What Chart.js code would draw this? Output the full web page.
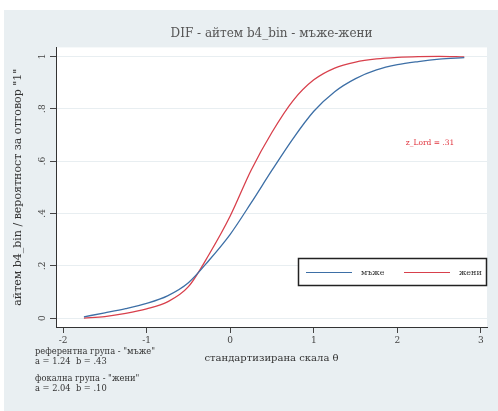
<!DOCTYPE html>
<html lang="bg">
<head>
<meta charset="UTF-8">
<title>DIF - айтем b4_bin - мъже-жени</title>
<style>
    html, body { margin: 0; padding: 0; background: #fff; }
    #wrap { position: relative; width: 498px; height: 411px; }
</style>
<script src="https://cdn.jsdelivr.net/npm/chart.js"></script>
</head>
<body>
<div id="wrap"><canvas id="dif"></canvas></div>
<script>
    // стандартизирана скала и вероятности по групи
    var theta  = [-1.75, -1.5, -1.25, -1.0, -0.75, -0.5, -0.25, 0, 0.25, 0.5, 0.75, 1.0, 1.25, 1.5, 1.75, 2.0, 2.25, 2.5, 2.8];
    var menP   = [0.005, 0.02, 0.036, 0.056, 0.085, 0.135, 0.222, 0.32, 0.44, 0.565, 0.685, 0.79, 0.865, 0.915, 0.948, 0.968, 0.98, 0.989, 0.995];
    var womenP = [0.0, 0.006, 0.018, 0.035, 0.062, 0.12, 0.245, 0.39, 0.565, 0.71, 0.83, 0.91, 0.955, 0.978, 0.99, 0.996, 0.999, 1.0, 0.998];

    var groupNames = ['мъже', 'жени'];
    var xTicks = [-2, -1, 0, 1, 2, 3];
    var yTicks = [0, 0.2, 0.4, 0.6, 0.8, 1];
    var yTickLabels = ['0', '.2', '.4', '.6', '.8', '1'];
    var noteLines = [
        ['референтна група - "мъже"', 'a = 1.24  b = .43'],
        ['фокална група - "жени"', 'a = 2.04  b = .10']
    ];
    var statText = 'z_Lord = .31';

    var SERIF = '"DejaVu Serif", "Liberation Serif", serif';

    function pts(vals) {
        return theta.map(function (t, i) { return { x: t, y: vals[i] }; });
    }

    // фон: сива рамка, бяла зона на графиката
    var backdrop = {
        id: 'backdrop',
        beforeDraw: function (chart) {
            var c = chart.ctx, a = chart.chartArea;
            c.save();
            c.fillStyle = '#ffffff';
            c.fillRect(0, 0, chart.width, chart.height);
            c.fillStyle = '#e9eff2';
            c.fillRect(4, 10, chart.width - 4, chart.height - 10);
            c.fillStyle = '#ffffff';
            c.fillRect(a.left, a.top, a.right - a.left, a.bottom - a.top);
            c.restore();
        }
    };

    // завъртени надписи по оста y, легенда и бележки
    var extras = {
        id: 'extras',
        afterDraw: function (chart) {
            var c = chart.ctx;
            var y = chart.scales.y;
            c.save();
            c.fillStyle = '#444';
            c.font = '9px ' + SERIF;
            c.textAlign = 'center';
            c.textBaseline = 'middle';
            yTicks.forEach(function (v, i) {
                var py = y.getPixelForValue(v);
                c.save();
                c.translate(y.right - 13, py);
                c.rotate(-Math.PI / 2);
                c.fillText(yTickLabels[i], 0, 0);
                c.restore();
            });

            // легенда
            var lx = 298, ly = 258, lw = 188, lh = 27;
            c.fillStyle = '#fff';
            c.fillRect(lx, ly, lw, lh);
            c.strokeStyle = '#222';
            c.lineWidth = 1.5;
            c.strokeRect(lx + 0.5, ly + 0.5, lw, lh);
            var ds = chart.data.datasets;
            var slots = [306, 404];
            c.font = '8px ' + SERIF;
            c.textAlign = 'left';
            ds.forEach(function (d, i) {
                var sx = slots[i], sy = ly + lh / 2 + 1;
                c.strokeStyle = d.borderColor;
                c.lineWidth = 1.2;
                c.beginPath();
                c.moveTo(sx, sy);
                c.lineTo(sx + 46, sy);
                c.stroke();
                c.fillStyle = '#333';
                c.fillText(d.label, sx + 55, sy);
            });

            // статистика
            c.fillStyle = '#e0323c';
            c.font = '7.5px ' + SERIF;
            c.textAlign = 'center';
            c.fillText(statText, 430, 143);

            // бележки под графиката
            c.fillStyle = '#333';
            c.font = '8.3px ' + SERIF;
            c.textAlign = 'left';
            var rows = [352, 362, 379, 389];
            var k = 0;
            noteLines.forEach(function (grp) {
                grp.forEach(function (line) {
                    c.fillText(line, 35, rows[k++]);
                });
            });
            c.restore();
        }
    };

    new Chart(document.getElementById('dif'), {
        type: 'line',
        data: {
            datasets: [{
                label: groupNames[0],
                data: pts(menP),
                borderColor: '#3d6fa6',
                borderWidth: 1.3,
                pointRadius: 0,
                cubicInterpolationMode: 'monotone'
            }, {
                label: groupNames[1],
                data: pts(womenP),
                borderColor: '#d8404c',
                borderWidth: 1.3,
                pointRadius: 0,
                cubicInterpolationMode: 'monotone'
            }]
        },
        options: {
            responsive: true,
            maintainAspectRatio: false,
            animation: false,
            layout: { padding: { left: 0, right: 11, top: 0, bottom: 44 } },
            plugins: {
                legend: { display: false },
                tooltip: { enabled: false },
                title: {
                    display: true,
                    fullSize: false,
                    text: 'DIF - айтем b4_bin - мъже-жени',
                    color: '#555',
                    font: { family: SERIF, size: 12, weight: 'normal' },
                    padding: { top: 27, bottom: 6 }
                }
            },
            scales: {
                x: {
                    type: 'linear',
                    min: -2.084,
                    max: 3.072,
                    afterBuildTicks: function (s) { s.ticks = xTicks.map(function (v) { return { value: v }; }); },
                    afterFit: function (s) { s.height = 40; },
                    ticks: {
                        color: '#444',
                        font: { family: SERIF, size: 9 },
                        padding: 2,
                        maxRotation: 0,
                        callback: function (v) { return String(v); }
                    },
                    grid: { drawOnChartArea: false, tickLength: 6, tickColor: '#444' },
                    border: { display: true, color: '#333', width: 1 },
                    title: {
                        display: true,
                        text: 'стандартизирана скала θ',
                        color: '#333',
                        font: { family: SERIF, size: 10 },
                        padding: { top: 0, bottom: 3 }
                    }
                },
                y: {
                    type: 'linear',
                    min: -0.034,
                    max: 1.034,
                    afterBuildTicks: function (s) { s.ticks = yTicks.map(function (v) { return { value: v }; }); },
                    afterFit: function (s) { s.width = 56; },
                    ticks: { display: false },
                    grid: { color: '#e8eef1', tickLength: 6, tickColor: '#444' },
                    border: { display: true, color: '#333', width: 1 },
                    title: {
                        display: true,
                        text: 'айтем b4_bin / вероятност за отговор "1"',
                        color: '#333',
                        font: { family: SERIF, size: 11 },
                        padding: { top: 12, bottom: 0 }
                    }
                }
            }
        },
        plugins: [backdrop, extras]
    });
</script>
</body>
</html>
